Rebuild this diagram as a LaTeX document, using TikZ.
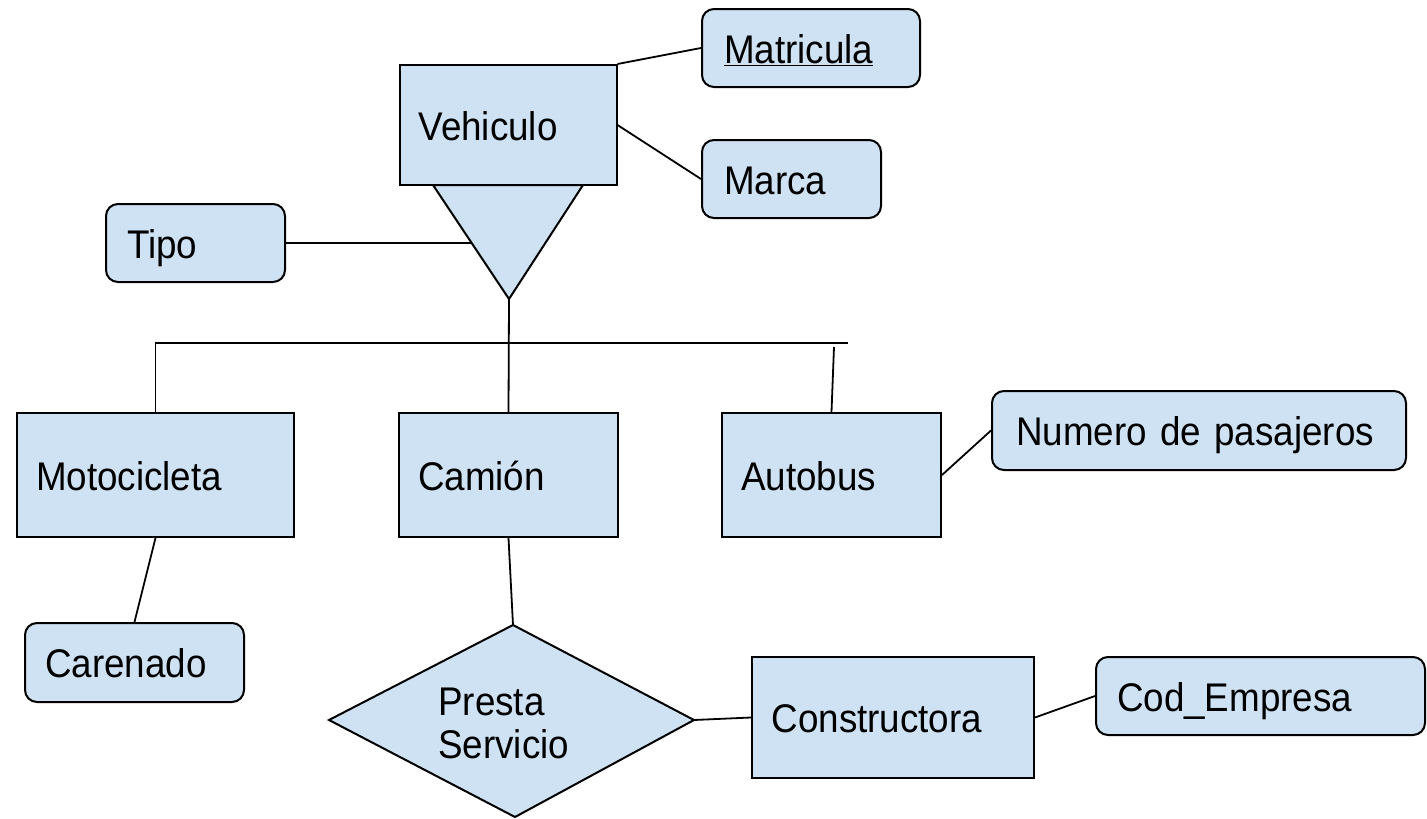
\documentclass[tikz,border=0pt]{standalone}
\usepackage{fontspec}
\setmainfont{Liberation Sans}[FakeStretch=0.92]
\usetikzlibrary{calc}
\definecolor{erfill}{HTML}{CFE2F3}
\begin{document}
\begin{tikzpicture}[x=1pt,y=-1pt,
  every node/.style={font=\fontsize{40}{43}\selectfont},
  box/.style={draw=black, fill=erfill, line width=2pt, align=left,
    inner xsep=20pt, inner ysep=0pt, text height=30pt, text depth=0pt},
  entity/.style={box},
  attr/.style={box, rounded corners=12pt},
  link/.style={line width=1.8pt, draw=black},
  shapeline/.style={line width=2pt, draw=black, fill=erfill, line join=miter}]
\useasboundingbox (0,0) rectangle (1427,819);

% ISA triangle under the superclass
\coordinate (tl) at (433,185);
\coordinate (tr) at (583,185);
\coordinate (apex) at (509,299);
\path[shapeline] (tl) -- (tr) -- (apex) -- cycle;

% superclass and its attributes
\node[entity, text width=179pt, inner xsep=19pt, minimum height=120pt] (veh) at (508,125) {Vehiculo};
\node[attr, text width=174pt, inner xsep=22pt, minimum height=78pt] (mat) at (811,48) {\underline{Matricula}};
\node[attr, text width=135pt, inner xsep=22pt, minimum height=78pt] (marca) at (791.5,179) {Marca};
\node[attr, text width=137pt, inner xsep=21pt, minimum height=78pt] (tipo) at (195.5,243) {Tipo};

% subclasses
\node[entity, text width=239pt, inner xsep=19pt, minimum height=124pt] (moto) at (155.5,475) {Motocicleta};
\node[entity, text width=181pt, inner xsep=19pt, minimum height=124pt] (cam) at (508.5,475) {Camión};
\node[entity, text width=181pt, inner xsep=19pt, minimum height=124pt] (aut) at (831.5,475) {Autobus};
\node[attr, text width=366pt, inner xsep=24pt, minimum height=79pt] (num) at (1199,430.5) {Numero de pasajeros};
\node[attr, text width=179pt, inner xsep=20pt, minimum height=79pt] (car) at (134.5,662.5) {Carenado};

% relationship and related entity
\coordinate (dtop) at (513,625);
\coordinate (dleft) at (329,720);
\coordinate (dright) at (694,720);
\coordinate (dbot) at (515,817);
\path[shapeline] (dtop) -- (dright) -- (dbot) -- (dleft) -- cycle;
\node[anchor=base west, inner sep=0pt] (presta) at (438,715) {Presta};
\node[anchor=base west, inner sep=0pt] (serv) at (438,758) {Servicio};
\node[entity, text width=243pt, inner xsep=19.5pt, minimum height=121pt] (constr) at (893,717.5) {Constructora};
\node[attr, text width=287pt, inner xsep=21pt, minimum height=78pt] (cod) at (1260.5,696) {Cod\_Empresa};

% connectors
\coordinate (tedge) at ($(tl)!0.509!(apex)$);
\coordinate (barL) at (155,343);
\coordinate (barR) at (848,343);
\coordinate (autTop) at (834,347);
\draw[link] (veh.north east) -- (mat.west);
\draw[link] (veh.east) -- (marca.west);
\draw[link] (tipo.east) -- (tedge);
\draw[link] (apex) -- (cam.north);
\draw[link] (barL) -- (barR);
\draw[link] (moto.north |- barL) -- (moto.north);
\draw[link] (autTop) -- (aut.north);
\draw[link] (aut.east) -- (num.west);
\draw[link] (moto.south) -- (car.north);
\draw[link] (cam.south) -- (dtop);
\draw[link] (dright) -- (constr.west);
\draw[link] (constr.east) -- (cod.west);
\end{tikzpicture}
\end{document}
